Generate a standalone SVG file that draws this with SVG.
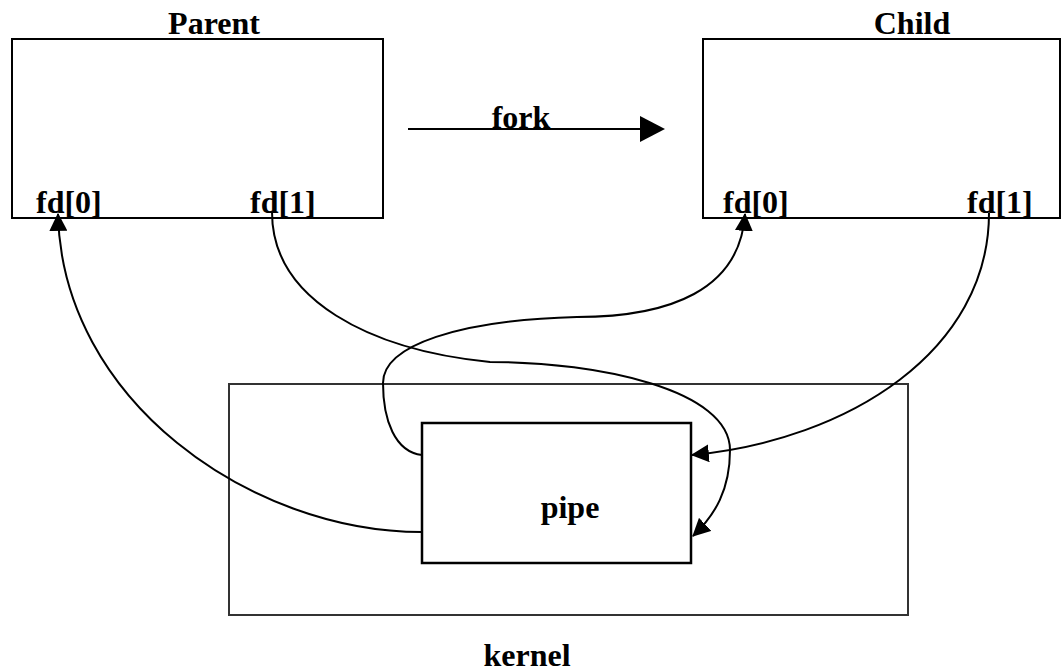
<svg xmlns="http://www.w3.org/2000/svg" width="1063" height="671" viewBox="0 0 1063 671">
<style>
.box{fill:none;stroke:#000;stroke-width:2}
.kbox{fill:none;stroke:#333;stroke-width:2}
.pbox{fill:none;stroke:#000;stroke-width:2.5}
.t{font-family:"Liberation Serif","Times New Roman",serif;font-weight:bold;font-size:32px;fill:#000}
.c{fill:none;stroke:#000;stroke-width:2}
</style>
<defs>
<marker id="ah" markerUnits="userSpaceOnUse" markerWidth="18" markerHeight="18" viewBox="0 0 16 16" refX="15" refY="8" orient="auto">
<path d="M0,0 L16,8 L0,16 Z" fill="#000"/>
</marker>
</defs>
<g id="parent">
<rect class="box" x="12" y="39" width="371" height="179"/>
<text class="t" x="214" y="34" text-anchor="middle">Parent</text>
<text class="t" x="36" y="213">fd[0]</text>
<text class="t" x="250" y="213">fd[1]</text>
</g>
<g id="child">
<rect class="box" x="703" y="39" width="357" height="179"/>
<text class="t" x="912" y="34" text-anchor="middle">Child</text>
<text class="t" x="723" y="213">fd[0]</text>
<text class="t" x="967" y="213">fd[1]</text>
</g>
<g id="kernel">
<rect class="kbox" x="229" y="384" width="679" height="231"/>
<text class="t" x="527" y="666" text-anchor="middle">kernel</text>
</g>
<g id="pipe">
<rect class="pbox" x="422" y="423" width="269" height="140"/>
<text class="t" x="570" y="518" text-anchor="middle">pipe</text>
</g>
<g id="connectors">
<line class="c" x1="408" y1="129" x2="641" y2="129"/>
<path d="M640,116 L665,129 L640,142 Z" fill="#000"/>
<text class="t" x="521" y="128" text-anchor="middle">fork</text>
<path class="c" d="M422,532 C250,532 62,400 58,214" marker-end="url(#ah)"/>
<path class="c" d="M272,212 C272,300 370,350 490,362 C600,362 730,390 730,450 C730,490 715,515 693,536" marker-end="url(#ah)"/>
<path class="c" d="M422,455 C395,452 383,420 383,383 C383,345 460,320 577,317 C670,317 740,290 745,214" marker-end="url(#ah)"/>
<path class="c" d="M989,213 C989,350 850,440 692,455" marker-end="url(#ah)"/>
</g>
</svg>
